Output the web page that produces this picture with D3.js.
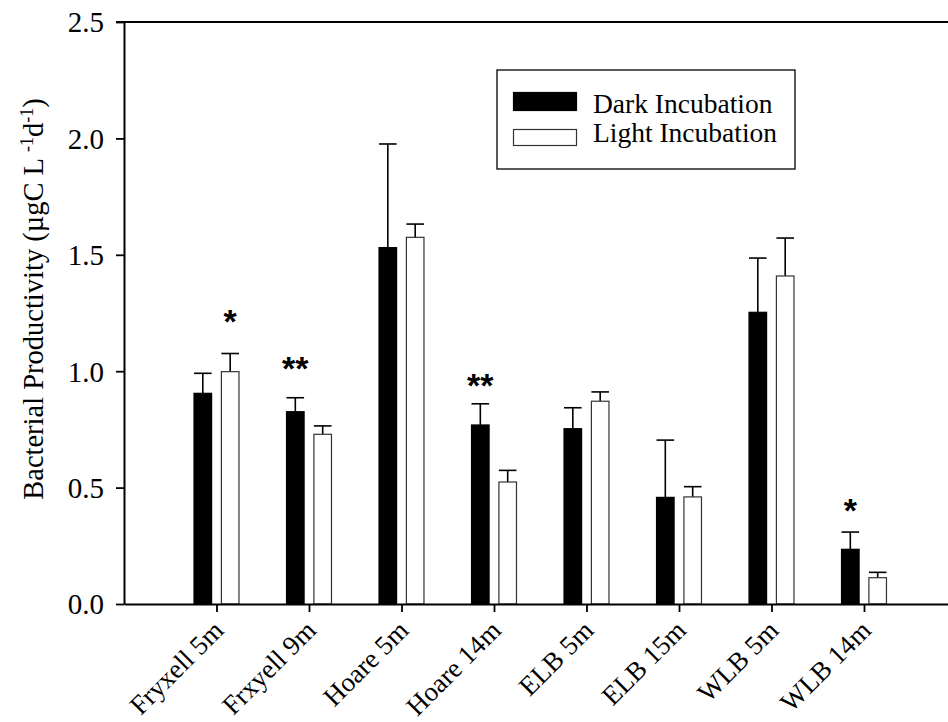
<!DOCTYPE html>
<html>
<head>
<meta charset="utf-8">
<script src="https://cdn.jsdelivr.net/npm/d3@7"></script>
<style>
  html, body { margin: 0; padding: 0; background: #fff; }
  svg { display: block; }
  .serif { font-family: "Liberation Serif", "Times New Roman", serif; }
</style>
</head>
<body>
<div id="chart"></div>
<script>
// bacterial productivity, dark vs light incubation

const categories = ["Fryxell 5m", "Frxyell 9m", "Hoare 5m", "Hoare 14m", "ELB 5m", "ELB 15m", "WLB 5m", "WLB 14m"];
const darkMeans = [0.905, 0.826, 1.531, 0.769, 0.753, 0.458, 1.253, 0.235];
const darkErrors = [0.086, 0.060, 0.445, 0.091, 0.090, 0.246, 0.233, 0.074];
const lightMeans = [0.998, 0.729, 1.575, 0.524, 0.871, 0.460, 1.409, 0.113];
const lightErrors = [0.078, 0.036, 0.057, 0.050, 0.040, 0.044, 0.163, 0.023];

// significance marks: label, which bar it sits over, and level (centre of mark)
const sigLabels = ["*", "**", "", "**", "", "", "", "*"];
const sigSeries = ["light", "dark", "", "dark", "", "", "", "dark"];
const sigLevels = [1.25, 1.048, 0, 0.976, 0, 0, 0, 0.439];

const yTicks = [0, 0.5, 1.0, 1.5, 2.0, 2.5];
const legendLabels = ["Dark Incubation", "Light Incubation"];

const W = 948, H = 722;
const svg = d3.select("#chart").append("svg").attr("width", W).attr("height", H);
svg.append("rect").attr("width", W).attr("height", H).attr("fill", "#fff");

const x = d3.scaleLinear().domain([0, 9]).range([124, 956.5]);
const y = d3.scaleLinear().domain([0, 2.5]).range([604, 22]);

const barW = x(0.19) - x(0);
const off = x(0.148) - x(0);

const rows = categories.map((c, i) => ({
  i, c,
  dark: darkMeans[i], darkErr: darkErrors[i],
  light: lightMeans[i], lightErr: lightErrors[i]
}));

const series = [
  { key: "dark", sign: -1, fill: "#000", stroke: "#000" },
  { key: "light", sign: 1, fill: "#fff", stroke: "#333" }
];

// error bars first (only upper half visible above bar)
const plot = svg.append("g");
series.forEach((s) => {
  const g = plot.append("g");
  rows.forEach((d) => {
    const cx = x(d.i + 1) + s.sign * off;
    const top = y(d[s.key] + d[s.key + "Err"]);
    g.append("line")
      .attr("x1", cx).attr("x2", cx)
      .attr("y1", y(d[s.key])).attr("y2", top)
      .attr("stroke", "#000").attr("stroke-width", 1.6);
    g.append("line")
      .attr("x1", cx - barW / 2).attr("x2", cx + barW / 2)
      .attr("y1", top).attr("y2", top)
      .attr("stroke", "#000").attr("stroke-width", 1.6);
  });
  g.selectAll("rect")
    .data(rows)
    .enter()
    .append("rect")
    .attr("x", (d) => x(d.i + 1) + s.sign * off - barW / 2)
    .attr("y", (d) => y(d[s.key]))
    .attr("width", barW)
    .attr("height", (d) => y(0) - y(d[s.key]))
    .attr("fill", s.fill)
    .attr("stroke", s.stroke)
    .attr("stroke-width", 1.2);
});

// significance asterisks
rows.forEach((d) => {
  if (!sigLabels[d.i]) return;
  const sgn = sigSeries[d.i] === "dark" ? -1 : 1;
  svg.append("text")
    .attr("x", x(d.i + 1) + sgn * off)
    .attr("y", y(sigLevels[d.i]) + 20)
    .attr("text-anchor", "middle")
    .style("font-family", "'Liberation Sans', Arial, sans-serif")
    .style("font-weight", "bold")
    .style("font-size", "34px")
    .text(sigLabels[d.i]);
});

// y axis
const yAxis = svg.append("g")
  .attr("transform", `translate(${x(0)},0)`)
  .call(d3.axisLeft(y).tickValues(yTicks).tickFormat(d3.format(".1f")).tickSize(8).tickSizeOuter(0));
yAxis.select(".domain").attr("stroke-width", 2);
yAxis.selectAll(".tick line").attr("stroke-width", 1.8);
yAxis.selectAll(".tick text")
  .attr("class", "serif")
  .attr("x", -20)
  .attr("dy", "0.34em")
  .style("font-size", "29px")
  .attr("fill", "#000");

// top frame line
svg.append("line")
  .attr("x1", x(0) - 8).attr("x2", W)
  .attr("y1", y(2.5)).attr("y2", y(2.5))
  .attr("stroke", "#000").attr("stroke-width", 2);

// x axis
const xAxis = svg.append("g")
  .attr("transform", `translate(0,${y(0)})`)
  .call(d3.axisBottom(x).tickValues(d3.range(1, categories.length + 1)).tickFormat((v) => categories[v - 1]).tickSize(8).tickSizeOuter(0));
xAxis.select(".domain").attr("stroke-width", 2);
xAxis.selectAll(".tick line").attr("stroke-width", 1.8);
xAxis.selectAll(".tick text")
  .attr("class", "serif")
  .attr("text-anchor", "end")
  .attr("x", 0).attr("y", 0).attr("dy", 0)
  .attr("transform", "translate(8,28) rotate(-45)")
  .style("font-size", "27px")
  .attr("fill", "#000");

// y title
const title = svg.append("text")
  .attr("class", "serif")
  .attr("transform", "translate(43,299) rotate(-90)")
  .attr("text-anchor", "middle")
  .style("font-size", "28.5px");
title.append("tspan").text("Bacterial Productivity (µgC L ");
title.append("tspan").attr("dy", -10).style("font-size", "18px").text("-1");
title.append("tspan").attr("dy", 10).text("d");
title.append("tspan").attr("dy", -10).style("font-size", "18px").text("-1");
title.append("tspan").attr("dy", 10).text(")");

// legend
const lg = svg.append("g").attr("transform", "translate(497,70)");
lg.append("rect")
  .attr("width", 298).attr("height", 99)
  .attr("fill", "#fff").attr("stroke", "#000").attr("stroke-width", 1.3);
legendLabels.forEach((lab, i) => {
  const s = series[i];
  lg.append("rect")
    .attr("x", 16.5).attr("y", i === 0 ? 22.5 : 59.5)
    .attr("width", 63).attr("height", i === 0 ? 18 : 16)
    .attr("fill", s.fill).attr("stroke", s.stroke).attr("stroke-width", 1.2);
  lg.append("text")
    .attr("class", "serif")
    .attr("x", 96)
    .attr("y", 42.5 + i * 29)
    .style("font-size", "27.5px")
    .text(lab);
});
</script>
</body>
</html>
